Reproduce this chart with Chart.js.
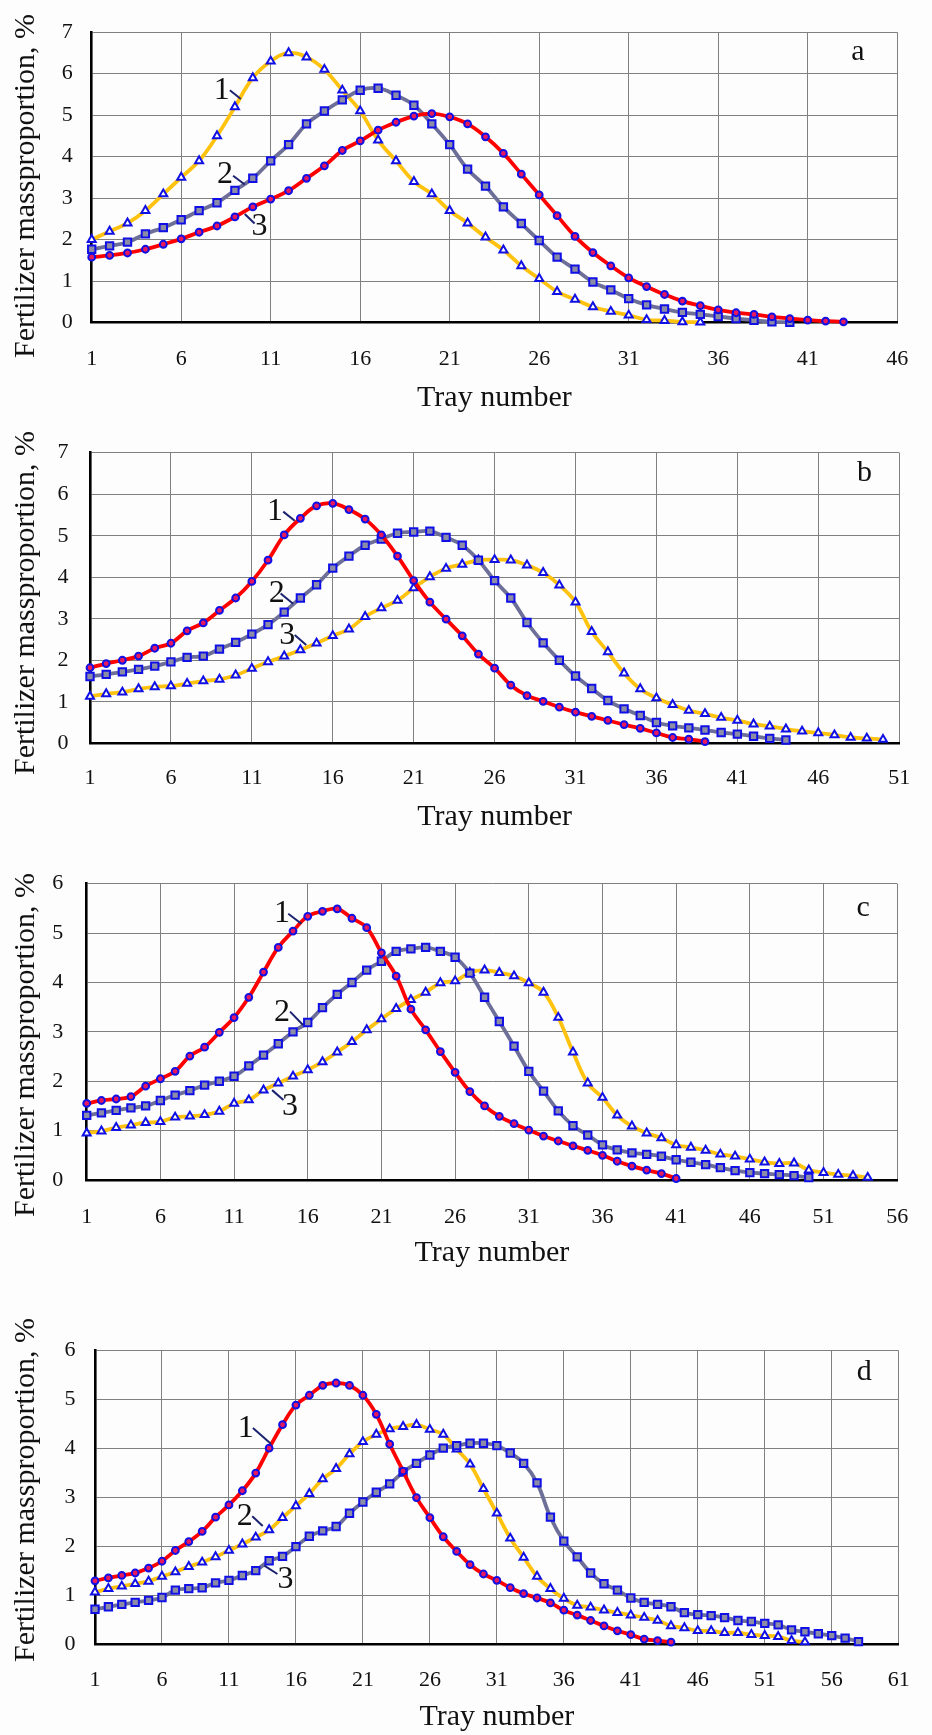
<!DOCTYPE html>
<html>
<head>
<meta charset="utf-8">
<script src="https://cdn.jsdelivr.net/npm/chart.js@4.4.0/dist/chart.umd.min.js"></script>
<style>
  html, body { margin: 0; padding: 0; background: #fdfdfd; }
  body { width: 932px; height: 1735px; position: relative; overflow: hidden; }
  canvas { position: absolute; left: 0; }
</style>
</head>
<body>
<canvas id="chartA" width="932" height="420" style="top:0px"></canvas>
<canvas id="chartB" width="932" height="425" style="top:418px"></canvas>
<canvas id="chartC" width="932" height="430" style="top:847px"></canvas>
<canvas id="chartD" width="932" height="417" style="top:1318px"></canvas>
<script>
const FONT = "'Liberation Serif', 'Times New Roman', serif";

// --- panel a ---
const xTicksA = [1, 6, 11, 16, 21, 26, 31, 36, 41, 46];
const yTicksA = [0, 1, 2, 3, 4, 5, 6, 7];
const a1 = [2.0, 2.2, 2.4, 2.7, 3.1, 3.5, 3.9, 4.5, 5.2, 5.9, 6.3, 6.5, 6.4, 6.1, 5.6, 5.1, 4.4, 3.9, 3.4, 3.1,
  2.7, 2.4, 2.06, 1.75, 1.37, 1.06, 0.75, 0.56, 0.38, 0.27, 0.18, 0.07, 0.05, 0.02, 0.01];
const a2 = [1.77, 1.85, 1.94, 2.14, 2.29, 2.48, 2.7, 2.89, 3.19, 3.48, 3.9, 4.29, 4.79, 5.1, 5.37, 5.6, 5.65, 5.48, 5.24, 4.79,
  4.29, 3.7, 3.29, 2.79, 2.39, 1.98, 1.58, 1.29, 0.98, 0.79, 0.58, 0.43, 0.33, 0.25, 0.2, 0.15, 0.1, 0.06, 0.02, 0.01];
const a3 = [1.58, 1.62, 1.68, 1.77, 1.89, 2.02, 2.18, 2.33, 2.55, 2.79, 2.98, 3.18, 3.48, 3.78, 4.15, 4.38, 4.64, 4.83, 4.98, 5.04,
  4.96, 4.79, 4.48, 4.08, 3.58, 3.08, 2.58, 2.08, 1.69, 1.37, 1.08, 0.87, 0.68, 0.52, 0.41, 0.31, 0.24, 0.2, 0.14, 0.1,
  0.06, 0.04, 0.02];

// --- panel b ---
const xTicksB = [1, 6, 11, 16, 21, 26, 31, 36, 41, 46, 51];
const yTicksB = [0, 1, 2, 3, 4, 5, 6, 7];
const b1 = [1.82, 1.92, 2.0, 2.1, 2.29, 2.41, 2.71, 2.9, 3.2, 3.5, 3.9, 4.41, 5.02, 5.42, 5.72, 5.78, 5.63, 5.4, 5.02, 4.51,
  3.92, 3.4, 2.99, 2.59, 2.15, 1.81, 1.4, 1.15, 1.01, 0.87, 0.75, 0.65, 0.55, 0.45, 0.36, 0.25, 0.14, 0.1, 0.04];
const b2 = [1.61, 1.66, 1.72, 1.78, 1.86, 1.96, 2.07, 2.1, 2.27, 2.43, 2.63, 2.86, 3.16, 3.5, 3.82, 4.22, 4.51, 4.77, 4.92, 5.06,
  5.09, 5.11, 4.96, 4.77, 4.41, 3.92, 3.5, 2.91, 2.42, 2.0, 1.62, 1.32, 1.03, 0.83, 0.67, 0.5, 0.42, 0.37, 0.32, 0.26,
  0.22, 0.17, 0.12, 0.08];
const b3 = [1.13, 1.19, 1.23, 1.31, 1.36, 1.38, 1.44, 1.5, 1.54, 1.64, 1.8, 1.96, 2.1, 2.25, 2.41, 2.59, 2.75, 3.05, 3.26, 3.44,
  3.74, 4.01, 4.21, 4.31, 4.41, 4.42, 4.41, 4.29, 4.11, 3.81, 3.4, 2.69, 2.2, 1.69, 1.31, 1.09, 0.93, 0.79, 0.71, 0.62,
  0.55, 0.46, 0.41, 0.34, 0.29, 0.25, 0.2, 0.14, 0.12, 0.09];

// --- panel c ---
const xTicksC = [1, 6, 11, 16, 21, 26, 31, 36, 41, 46, 51, 56];
const yTicksC = [0, 1, 2, 3, 4, 5, 6];
const c1 = [1.55, 1.61, 1.64, 1.69, 1.9, 2.05, 2.2, 2.51, 2.69, 2.99, 3.29, 3.7, 4.21, 4.71, 5.04, 5.34, 5.44, 5.49, 5.3, 5.11,
  4.6, 4.13, 3.46, 3.04, 2.6, 2.18, 1.79, 1.5, 1.29, 1.14, 1.01, 0.89, 0.79, 0.69, 0.6, 0.5, 0.38, 0.28, 0.2, 0.13, 0.03];
const c2 = [1.31, 1.36, 1.41, 1.46, 1.5, 1.61, 1.72, 1.81, 1.92, 2.0, 2.1, 2.31, 2.53, 2.76, 3.0, 3.19, 3.49, 3.76, 4.0, 4.25,
  4.43, 4.63, 4.68, 4.71, 4.63, 4.51, 4.19, 3.7, 3.21, 2.71, 2.2, 1.8, 1.4, 1.1, 0.91, 0.71, 0.61, 0.55, 0.52, 0.48,
  0.41, 0.36, 0.31, 0.25, 0.19, 0.15, 0.13, 0.11, 0.09, 0.05];
const c3 = [0.95, 0.99, 1.06, 1.11, 1.16, 1.18, 1.27, 1.29, 1.32, 1.39, 1.55, 1.62, 1.82, 1.96, 2.1, 2.23, 2.39, 2.59, 2.8, 3.04,
  3.26, 3.47, 3.65, 3.8, 3.99, 4.03, 4.2, 4.25, 4.2, 4.13, 3.99, 3.8, 3.29, 2.59, 1.96, 1.67, 1.31, 1.09, 0.95, 0.85,
  0.71, 0.66, 0.6, 0.52, 0.48, 0.42, 0.36, 0.33, 0.34, 0.2, 0.15, 0.11, 0.09, 0.05];

// --- panel d ---
const xTicksD = [1, 6, 11, 16, 21, 26, 31, 36, 41, 46, 51, 56, 61];
const yTicksD = [0, 1, 2, 3, 4, 5, 6];
const d1 = [1.3, 1.36, 1.41, 1.46, 1.56, 1.7, 1.92, 2.1, 2.31, 2.6, 2.85, 3.14, 3.5, 4.01, 4.49, 4.89, 5.09, 5.29, 5.34, 5.29,
  5.09, 4.7, 4.09, 3.54, 3.0, 2.59, 2.2, 1.9, 1.63, 1.44, 1.31, 1.16, 1.04, 0.95, 0.85, 0.7, 0.6, 0.49, 0.38, 0.28,
  0.2, 0.11, 0.08, 0.05];
const d2 = [1.07, 1.14, 1.19, 1.24, 1.29, 1.39, 1.48, 1.59, 1.68, 1.79, 1.92, 2.05, 2.19, 2.34, 2.59, 2.83, 3.08, 3.38, 3.59, 3.89,
  4.14, 4.29, 4.4, 4.45, 4.49, 4.39, 4.29, 3.99, 3.68, 3.18, 2.68, 2.17, 1.78, 1.39, 1.14, 0.94, 0.8, 0.76, 0.7, 0.65,
  0.6, 0.55, 0.49, 0.38, 0.34, 0.28, 0.28, 0.24, 0.24, 0.2, 0.18, 0.16, 0.08, 0.05];
const d3 = [0.72, 0.77, 0.82, 0.86, 0.9, 0.96, 1.11, 1.14, 1.16, 1.26, 1.31, 1.41, 1.51, 1.71, 1.8, 2.0, 2.21, 2.32, 2.41, 2.68,
  2.91, 3.11, 3.28, 3.52, 3.7, 3.87, 4.01, 4.06, 4.11, 4.11, 4.06, 3.91, 3.7, 3.3, 2.6, 2.11, 1.79, 1.46, 1.24, 1.11,
  0.95, 0.86, 0.82, 0.77, 0.65, 0.61, 0.59, 0.55, 0.49, 0.47, 0.43, 0.4, 0.3, 0.26, 0.22, 0.18, 0.13, 0.06];

const MARK = '#1010e6';
const STYLE = {
  tri:  { line: '#ffc20e', point: 'triangle', radius: 4.6, fill: '#ffffff' },
  rect: { line: '#6d6f98', point: 'rect', radius: 5.2, fill: '#8c8ca6' },
  dot:  { line: '#ff0000', point: 'circle', radius: 3.4, fill: '#e8185e' }
};

function series(values, st) {
  return {
    data: values.map((v, i) => ({ x: i + 1, y: v })),
    borderColor: st.line,
    borderWidth: 3.8,
    tension: 0.4,
    pointStyle: st.point,
    pointRadius: st.radius,
    pointBorderColor: MARK,
    pointBackgroundColor: st.fill,
    pointBorderWidth: 2,
    clip: false
  };
}

// curve labels "1", "2", "3" with their leader strokes, in data units
const panels = [
  { id: 'chartA', top: 0, height: 420, area: { left: 91.7, right: 907.3, top: 19.3, bottom: 322.7 },
    xTicks: xTicksA, yTicks: yTicksA, letter: 'a', letterAt: [43.8, 6.52],
    sets: [series(a3, STYLE.dot), series(a2, STYLE.rect), series(a1, STYLE.tri)],
    notes: [
      { text: '1', at: [8.26, 5.6], line: [[8.72, 5.6], [9.33, 5.39]] },
      { text: '2', at: [8.45, 3.56], line: [[8.9, 3.54], [9.55, 3.33]] },
      { text: '3', at: [10.38, 2.31], line: [[10.1, 2.39], [9.55, 2.62]] }
    ],
    yPad: 19, xGap: 37, titleY: 398, yTitleY: 186 },
  { id: 'chartB', top: 418, height: 425, area: { left: 90, right: 913.3, top: 448.3, bottom: 743.3 },
    xTicks: xTicksB, yTicks: yTicksB, letter: 'b', letterAt: [48.86, 6.5],
    sets: [series(b1, STYLE.dot), series(b2, STYLE.rect), series(b3, STYLE.tri)],
    notes: [
      { text: '1', at: [12.43, 5.58], line: [[12.94, 5.58], [13.65, 5.36]] },
      { text: '2', at: [12.54, 3.6], line: [[12.78, 3.61], [13.55, 3.36]] },
      { text: '3', at: [13.19, 2.59], line: [[13.65, 2.61], [14.36, 2.37]] }
    ],
    yPad: 21.5, xGap: 35, titleY: 817, yTitleY: 603 },
  { id: 'chartC', top: 847, height: 430, area: { left: 86.7, right: 917.2, top: 877.7, bottom: 1180 },
    xTicks: xTicksC, yTicks: yTicksC, letter: 'c', letterAt: [53.69, 5.5],
    sets: [series(c1, STYLE.dot), series(c2, STYLE.rect), series(c3, STYLE.tri)],
    notes: [
      { text: '1', at: [14.25, 5.39], line: [[14.68, 5.39], [15.57, 5.19]] },
      { text: '2', at: [14.25, 3.39], line: [[14.8, 3.41], [15.68, 3.14]] },
      { text: '3', at: [14.8, 1.49], line: [[14.35, 1.62], [13.58, 1.82]] }
    ],
    yPad: 23.5, xGap: 37, titleY: 1253, yTitleY: 1045 },
  { id: 'chartD', top: 1318, height: 417, area: { left: 95, right: 917.6, top: 1348.3, bottom: 1644.5 },
    xTicks: xTicksD, yTicks: yTicksD, letter: 'd', letterAt: [58.43, 5.56],
    sets: [series(d1, STYLE.dot), series(d3, STYLE.rect), series(d2, STYLE.tri)],
    notes: [
      { text: '1', at: [12.25, 4.41], line: [[12.79, 4.42], [14.13, 4.1]] },
      { text: '2', at: [12.18, 2.62], line: [[12.74, 2.62], [13.52, 2.42]] },
      { text: '3', at: [15.22, 1.32], line: [[14.62, 1.44], [13.64, 1.61]] }
    ],
    yPad: 19.5, xGap: 35.5, titleY: 1717, yTitleY: 1490 }
];

const notesPlugin = {
  id: 'notes',
  afterDatasetsDraw(chart, args, opts) {
    const { ctx, scales: { x, y } } = chart;
    ctx.save();
    ctx.textAlign = 'center';
    ctx.textBaseline = 'middle';
    ctx.fillStyle = '#111';
    ctx.font = '32px ' + FONT;
    opts.items.forEach(n => {
      ctx.fillText(n.text, x.getPixelForValue(n.at[0]), y.getPixelForValue(n.at[1]));
      ctx.beginPath();
      ctx.moveTo(x.getPixelForValue(n.line[0][0]), y.getPixelForValue(n.line[0][1]));
      ctx.lineTo(x.getPixelForValue(n.line[1][0]), y.getPixelForValue(n.line[1][1]));
      ctx.strokeStyle = '#1b2270';
      ctx.lineWidth = 2;
      ctx.stroke();
    });
    ctx.font = '30px ' + FONT;
    ctx.fillText(opts.letter, x.getPixelForValue(opts.letterAt[0]), y.getPixelForValue(opts.letterAt[1]));
    ctx.restore();
  }
};

// y title is drawn by hand so it is not squeezed to the plot height
const yTitlePlugin = {
  id: 'yTitle',
  afterDraw(chart, args, opts) {
    const ctx = chart.ctx;
    ctx.save();
    ctx.translate(opts.x, opts.y);
    ctx.rotate(-Math.PI / 2);
    ctx.textAlign = 'center';
    ctx.textBaseline = 'middle';
    ctx.fillStyle = '#111';
    ctx.font = '30px ' + FONT;
    ctx.fillText(opts.text, 0, 0);
    ctx.restore();
  }
};

panels.forEach(p => {
  const bottomOfCanvas = p.top + p.height;
  new Chart(document.getElementById(p.id), {
    type: 'line',
    data: { datasets: p.sets },
    plugins: [notesPlugin, yTitlePlugin],
    options: {
      responsive: false,
      animation: false,
      events: [],
      layout: { padding: { top: p.area.top - p.top, right: 932 - p.area.right, bottom: 0, left: 0 } },
      plugins: {
        legend: { display: false },
        tooltip: { enabled: false },
        notes: { items: p.notes, letter: p.letter, letterAt: p.letterAt },
        yTitle: { text: 'Fertilizer massproportion, %', x: 26, y: p.yTitleY - p.top }
      },
      scales: {
        x: {
          type: 'linear',
          min: p.xTicks[0],
          max: p.xTicks[p.xTicks.length - 1],
          afterBuildTicks: s => { s.ticks = p.xTicks.map(v => ({ value: v })); },
          afterFit: s => { s.height = bottomOfCanvas - p.area.bottom; },
          grid: { color: '#808080', lineWidth: 1, drawTicks: false },
          border: { display: true, color: '#000', width: 2.6 },
          ticks: { autoSkip: false, maxRotation: 0, padding: p.xGap - 13.2, color: '#111',
                   font: { family: FONT, size: 22 } },
          title: { display: true, text: 'Tray number', color: '#111',
                   font: { family: FONT, size: 30 },
                   padding: { top: 0, bottom: bottomOfCanvas - p.titleY - 18 } }
        },
        y: {
          min: p.yTicks[0],
          max: p.yTicks[p.yTicks.length - 1],
          afterBuildTicks: s => { s.ticks = p.yTicks.map(v => ({ value: v })); },
          afterFit: s => { s.width = p.area.left; },
          grid: { color: '#808080', lineWidth: 1, drawTicks: false },
          border: { display: true, color: '#000', width: 2.6 },
          ticks: { padding: p.yPad, color: '#111', font: { family: FONT, size: 22 } }
        }
      }
    }
  });
});
</script>
</body>
</html>
